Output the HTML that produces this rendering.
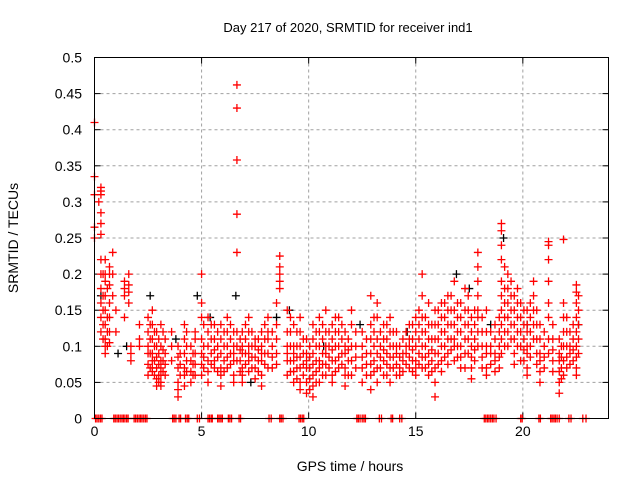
<!DOCTYPE html>
<html><head><meta charset="utf-8"><style>
body{margin:0;background:#fff;}
svg{display:block;font-family:"Liberation Sans",sans-serif;}
</style></head><body>
<svg id="chart" width="640" height="480" viewBox="0 0 640 480">
<rect width="640" height="480" fill="#fff"/>
<text x="348" y="32" font-size="13" text-anchor="middle">Day 217 of 2020, SRMTID for receiver ind1</text>
<text x="350" y="471" font-size="14" text-anchor="middle">GPS time / hours</text>
<text transform="translate(18,238) rotate(-90)" font-size="14" text-anchor="middle">SRMTID / TECUs</text>
<g id="grid"></g><g id="ticks"></g><g id="marks"></g>
<rect x="94.5" y="57.5" width="514" height="361" fill="none" stroke="#000" stroke-width="1"/>
</svg>
<script>
const xTicks=[0,5,10,15,20];
const yTicks=[0,0.05,0.1,0.15,0.2,0.25,0.3,0.35,0.4,0.45,0.5];
const yTickLabels=["0","0.05","0.1","0.15","0.2","0.25","0.3","0.35","0.4","0.45","0.5"];
const redClusterHours=[0.0,0.2,0.3,0.5,0.7,0.85,1.0,1.4,1.6,1.7,2.1,2.5,2.7,2.9,3.1,3.3,3.6,3.9,4.2,4.5,4.7,5.0,5.3,5.6,5.9,6.2,6.5,6.65,6.9,7.2,7.5,7.8,8.1,8.5,8.65,9.0,9.3,9.6,9.9,10.2,10.5,10.8,11.1,11.4,11.7,12.0,12.5,12.9,13.2,13.5,13.8,14.1,14.4,14.7,15.0,15.3,15.6,15.9,16.2,16.5,16.8,17.1,17.3,17.6,17.9,18.3,18.7,19.0,19.3,19.6,19.9,20.2,20.5,20.8,21.0,21.2,21.7,21.9,22.2,22.5];
const redClusterValues=[
[0.41,0.335,0.31,0.265,0.25],[0.30],[0.32,0.315,0.31,0.285,0.27,0.255,0.22,0.2,0.18,0.16,0.14,0.12],
[0.22,0.2,0.19,0.17,0.15,0.13,0.11,0.1,0.09],[0.21,0.2,0.185,0.16,0.14,0.12,0.105],[0.23,0.2,0.17],[0.15,0.12],
[0.19,0.18,0.17,0.14],[0.2,0.185,0.175,0.16],[0.1,0.09,0.08],[0.13,0.11,0.1],[0.14,0.12,0.1,0.09,0.075,0.06],
[0.15,0.13,0.11,0.09,0.08,0.07,0.065],[0.12,0.1,0.085,0.07,0.055,0.045],[0.13,0.1,0.08,0.07,0.06,0.05,0.045],
[0.11,0.09,0.075,0.06],[0.12,0.1,0.08],[0.1,0.085,0.07,0.05,0.04,0.03],[0.13,0.11,0.09,0.07,0.06,0.045],
[0.1,0.08,0.065,0.05],[0.12,0.11,0.09,0.075,0.06],[0.2,0.16,0.14,0.11,0.09,0.075,0.06],[0.14,0.12,0.1,0.08,0.065,0.05],
[0.13,0.11,0.095,0.08,0.07],[0.13,0.11,0.09,0.07,0.06,0.045],[0.14,0.12,0.1,0.085,0.07],[0.12,0.1,0.09,0.08,0.06,0.05],
[0.462,0.43,0.358,0.283,0.23,0.12,0.1,0.08],[0.12,0.1,0.09,0.07,0.06,0.05],[0.14,0.12,0.1,0.09,0.08,0.065],
[0.11,0.1,0.085,0.07,0.055],[0.12,0.1,0.09,0.08,0.06,0.045],[0.14,0.12,0.11,0.09,0.07],[0.16,0.13,0.11,0.09,0.075],
[0.225,0.21,0.2,0.19,0.18],[0.15,0.12,0.1,0.09,0.08,0.06],[0.13,0.1,0.09,0.08,0.065,0.05],[0.14,0.12,0.1,0.085,0.07,0.05,0.04],
[0.11,0.09,0.08,0.07,0.05,0.035],[0.13,0.11,0.09,0.075,0.06,0.045,0.03],[0.14,0.12,0.1,0.08,0.07,0.05],
[0.15,0.12,0.1,0.09,0.075,0.06],[0.13,0.11,0.095,0.08,0.06,0.05],[0.14,0.12,0.1,0.085,0.07],[0.12,0.1,0.09,0.07,0.06,0.045],
[0.15,0.13,0.1,0.08,0.06],[0.12,0.1,0.085,0.07,0.05],[0.17,0.13,0.11,0.09,0.075,0.06,0.04],[0.16,0.14,0.11,0.09,0.07,0.05],
[0.13,0.11,0.095,0.08,0.06],[0.14,0.12,0.1,0.085,0.07,0.05],[0.12,0.1,0.09,0.075,0.06],[0.11,0.09,0.08,0.065],
[0.13,0.11,0.1,0.085,0.07],[0.14,0.12,0.1,0.08,0.07,0.06],[0.2,0.17,0.14,0.12,0.1,0.085,0.07],[0.16,0.13,0.11,0.09,0.075,0.06],
[0.15,0.13,0.11,0.09,0.07,0.05,0.03],[0.16,0.14,0.12,0.1,0.08,0.065],[0.17,0.15,0.13,0.11,0.09,0.075],[0.19,0.15,0.13,0.11,0.1,0.08],
[0.16,0.14,0.12,0.1,0.085,0.07],[0.18,0.15,0.13,0.11,0.09,0.07],[0.14,0.12,0.1,0.085,0.07,0.055],
[0.23,0.21,0.19,0.17,0.15,0.14,0.12,0.1],[0.15,0.12,0.1,0.09,0.07,0.06],[0.13,0.11,0.09,0.08,0.065],
[0.27,0.26,0.24,0.22,0.19,0.17,0.15,0.13,0.11,0.09],[0.2,0.18,0.16,0.14,0.12,0.1],[0.17,0.15,0.13,0.11,0.09,0.075],
[0.16,0.14,0.12,0.1,0.08],[0.15,0.13,0.12,0.1,0.09,0.07,0.06],[0.19,0.17,0.15,0.13,0.11],[0.13,0.11,0.09,0.08,0.065,0.05],
[0.12,0.1,0.085,0.07],[0.245,0.24,0.22,0.19,0.16,0.14,0.11,0.09],[0.11,0.09,0.08,0.065,0.05,0.035],
[0.248,0.16,0.14,0.12,0.1,0.08,0.06],[0.12,0.1,0.09,0.075],[0.185,0.175,0.16,0.14,0.12,0.1,0.085,0.07,0.06]];
const extraHours=[0.4,0.6,2.6,2.8,3.0,3.2,4.0,4.3,4.6,5.1,5.45,5.75,6.05,6.35,6.8,7.05,7.35,7.65,7.95,8.3,9.15,9.45,9.75,10.05,10.35,10.65,10.95,11.25,11.55,11.85,12.2,12.7,13.05,13.35,13.65,13.95,14.25,14.55,14.85,15.15,15.45,15.75,16.05,16.35,16.65,16.95,17.45,17.75,18.1,18.5,18.9,19.15,19.45,19.75,20.05,20.35,20.65,21.4,21.8,22.05,22.35,22.6];
const extraValues=[
[0.2,0.17,0.15,0.13,0.11],[0.18,0.14,0.12,0.1],[0.13,0.11,0.09,0.07],[0.12,0.1,0.08,0.06],[0.11,0.09,0.075,0.06,0.05],[0.12,0.095,0.08,0.065],
[0.09,0.075,0.06],[0.12,0.1,0.08,0.065],[0.09,0.075,0.06],[0.13,0.1,0.085,0.07],[0.13,0.11,0.09,0.075],[0.12,0.1,0.085,0.065],
[0.12,0.1,0.08,0.065],[0.13,0.11,0.09,0.075],[0.11,0.095,0.08,0.065],[0.13,0.11,0.09,0.075],[0.12,0.1,0.085,0.07],[0.11,0.095,0.08,0.065],
[0.13,0.11,0.09,0.075],[0.12,0.1,0.085,0.07],[0.14,0.12,0.1,0.08,0.065],[0.12,0.1,0.085,0.07,0.055],[0.11,0.09,0.075,0.06],
[0.1,0.085,0.07,0.055,0.04],[0.12,0.1,0.08,0.065,0.05],[0.13,0.11,0.09,0.075,0.06],[0.12,0.1,0.085,0.07],[0.14,0.12,0.1,0.08,0.065],
[0.13,0.11,0.09,0.075],[0.11,0.095,0.08,0.06],[0.12,0.1,0.085,0.07],[0.11,0.09,0.075,0.06],[0.14,0.12,0.1,0.08,0.065],
[0.12,0.1,0.085,0.07],[0.13,0.11,0.09,0.075,0.06],[0.12,0.1,0.085,0.07],[0.1,0.085,0.07,0.06],[0.12,0.1,0.09,0.075],
[0.13,0.11,0.095,0.08,0.065],[0.15,0.13,0.11,0.09,0.075],[0.14,0.12,0.1,0.085,0.07],[0.13,0.11,0.095,0.08,0.065],
[0.15,0.13,0.11,0.09,0.075],[0.16,0.14,0.12,0.1,0.085],[0.17,0.15,0.13,0.11,0.095],[0.16,0.14,0.12,0.1,0.085],
[0.17,0.15,0.13,0.11,0.09],[0.15,0.13,0.11,0.095,0.08],[0.14,0.12,0.1,0.085,0.07],[0.12,0.1,0.09,0.075],[0.14,0.12,0.1,0.085,0.07],
[0.21,0.18,0.16,0.14,0.12,0.1],[0.19,0.17,0.15,0.13,0.11],[0.18,0.16,0.14,0.12,0.1],[0.15,0.13,0.11,0.095,0.08],
[0.16,0.14,0.12,0.1,0.085],[0.15,0.13,0.11,0.09,0.075],[0.13,0.11,0.095,0.08,0.065],[0.1,0.085,0.07,0.055],
[0.14,0.12,0.1,0.085,0.07],[0.13,0.11,0.095,0.08],[0.17,0.15,0.13,0.11,0.09]];
const blackHours=[0.3,1.1,1.5,2.6,3.8,4.8,5.4,6.6,7.3,8.5,9.1,10.7,12.4,14.6,16.9,17.5,18.5,19.1,20.2,22.6];
const blackValues=[0.17,0.09,0.1,0.17,0.11,0.17,0.14,0.17,0.05,0.14,0.15,0.1,0.13,0.12,0.2,0.18,0.13,0.25,0.13,0.13];
const zeroHours=[0.05,0.12,0.2,0.28,0.35,0.9,0.97,1.05,1.12,1.2,1.28,1.35,1.42,1.5,1.57,1.85,1.92,2.0,2.08,2.15,2.22,2.3,2.38,2.45,3.65,3.72,3.8,3.95,4.02,4.25,4.33,4.4,4.8,4.9,5.3,5.37,5.45,5.5,5.75,5.82,5.9,5.97,6.25,6.32,6.4,6.75,6.82,8.15,8.25,8.65,8.72,8.8,9.55,9.62,9.7,9.77,12.25,12.32,12.4,12.5,12.58,12.65,13.3,13.4,13.85,13.92,14.25,14.35,18.2,18.27,18.35,18.42,18.5,18.58,18.65,18.75,19.9,19.97,20.75,20.82,21.3,21.37,21.45,21.52,21.6,21.7,22.15,22.25,22.8,22.95];
const NS="http://www.w3.org/2000/svg";
const X0=94.5,X1=608.5,Y0=418.5,Y1=57.5;
function xs(h){return X0+(h/24)*(X1-X0);}
function ys(v){return Y0-(v/0.5)*(Y0-Y1);}
const grid=document.getElementById('grid'),ticks=document.getElementById('ticks'),marks=document.getElementById('marks');
function mk(tag,attrs,parent){const e=document.createElementNS(NS,tag);for(const k in attrs)e.setAttribute(k,attrs[k]);parent.appendChild(e);return e;}
xTicks.forEach(t=>{const x=xs(t);
 if(t>0){const g=mk('line',{x1:x,x2:x,y1:Y1,y2:Y0,stroke:'#a0a0a0','stroke-dasharray':'3,3'},grid);
 
 }
 mk('line',{x1:x,x2:x,y1:Y0,y2:Y0-6,stroke:'#000'},ticks);
 mk('line',{x1:x,x2:x,y1:Y1,y2:Y1+6,stroke:'#000'},ticks);
 const l=mk('text',{x:x,y:436,'font-size':14,'text-anchor':'middle'},ticks);l.textContent=t;
 
 
});
yTicks.forEach((t,i)=>{const y=ys(t);
 if(t>0&&t<0.5){const g=mk('line',{x1:X0,x2:X1,y1:y,y2:y,stroke:'#a0a0a0','stroke-dasharray':'3,3'},grid);
 
 }
 mk('line',{x1:X0,x2:X0+6,y1:y,y2:y,stroke:'#000'},ticks);
 mk('line',{x1:X1,x2:X1-6,y1:y,y2:y,stroke:'#000'},ticks);
 const l=mk('text',{x:82,y:y+5,'font-size':14,'text-anchor':'end'},ticks);l.textContent=yTickLabels[i];
 
 
});
function plus(h,v,color,name){const x=xs(h),y=ys(v);
 const p=mk('path',{d:`M${x-4},${y}H${x+4}M${x},${y-4}V${y+4}`,stroke:color,'stroke-width':1.3,fill:'none'},marks);
 
 }
blackHours.forEach((h,i)=>plus(h,blackValues[i],'#000','black-point'));
redClusterHours.forEach((h,i)=>redClusterValues[i].forEach(v=>plus(h,v,'#f00','red-point')));
extraHours.forEach((h,i)=>extraValues[i].forEach(v=>plus(h,v,'#f00','red-point')));
zeroHours.forEach(h=>plus(h,0,'#f00','zero-point'));
</script>
</body></html>
